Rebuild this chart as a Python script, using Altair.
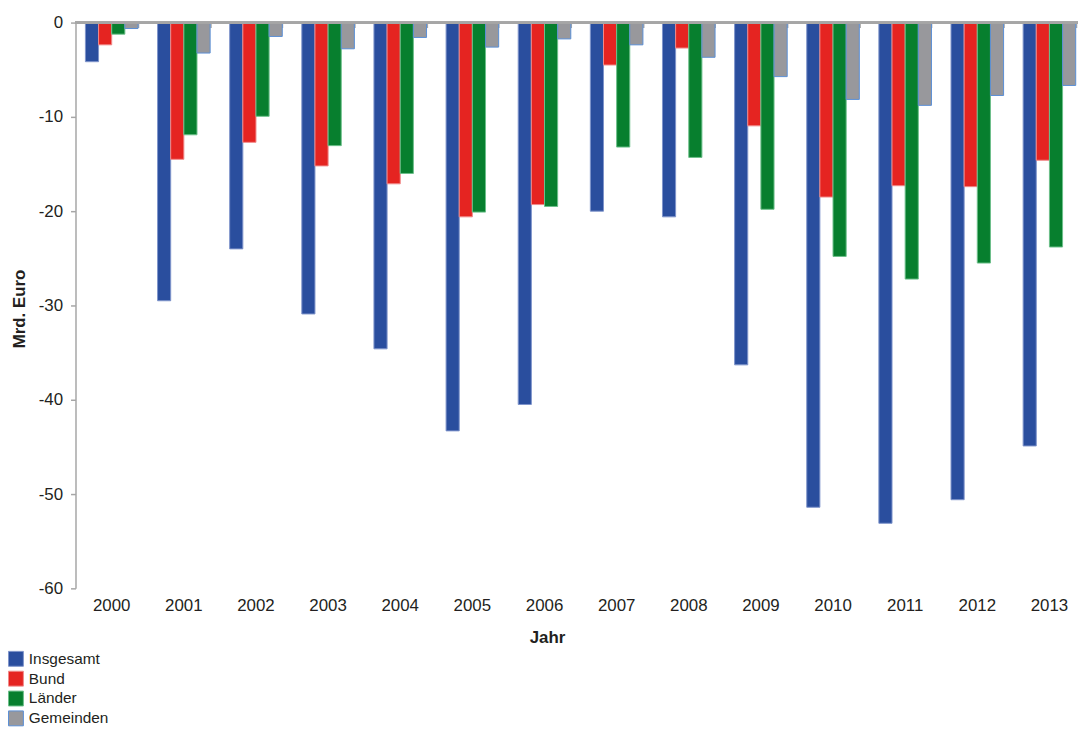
import altair as alt
import pandas as pd

years = [str(y) for y in range(2000, 2014)]
series = ["Insgesamt", "Bund", "Länder", "Gemeinden"]
insgesamt = [-4.15, -29.5, -24.0, -30.9, -34.6, -43.3, -40.5, -20.0, -20.6, -36.3, -51.4, -53.1, -50.6, -44.9]
bund = [-2.36, -14.5, -12.7, -15.2, -17.1, -20.6, -19.3, -4.5, -2.7, -10.95, -18.5, -17.3, -17.4, -14.6]
laender = [-1.23, -11.9, -9.94, -13.05, -16.0, -20.1, -19.5, -13.2, -14.3, -19.8, -24.8, -27.2, -25.5, -23.8]
gemeinden = [-0.63, -3.23, -1.47, -2.78, -1.58, -2.6, -1.73, -2.36, -3.68, -5.73, -8.15, -8.78, -7.73, -6.67]

fills = ["#2a4e9e", "#e52421", "#077f2e", "#98989c"]
strokes = ["#7f94cb", "#f08a8a", "#6cc08a", "#5b8fd6"]
stroke_widths = [1, 1, 1, 1.6]

rows = []
for name, vals in zip(series, [insgesamt, bund, laender, gemeinden]):
    for yr, v in zip(years, vals):
        rows.append({"Jahr": yr, "Ebene": name, "Rand": name, "Wert": v})
df = pd.DataFrame(rows)

grey = "#a6a6a6"
txt = "#231f20"
font = "Liberation Sans"

xscale = alt.Scale(domain=years, range=[0, 1017.7], paddingInner=0.271, paddingOuter=0.1376)
yscale = alt.Scale(domain=[-60, 0], nice=False, zero=False)

bars = alt.Chart(df).mark_bar().encode(
    x=alt.X("Jahr:N", scale=xscale, sort=years,
            axis=alt.Axis(orient="bottom", title="Jahr", titleFontSize=17, titleFontWeight="bold",
                          titleColor=txt, titleFont=font, labelFont=font,
                          labelFontSize=17, labelColor=txt, labelAngle=0, domain=False, ticks=False,
                          tickSize=0, labelPadding=9, titleX=475, titleY=50, titleAlign="center",
                          titleBaseline="middle")),
    xOffset=alt.XOffset("Ebene:N", sort=series, scale=alt.Scale(domain=series, paddingInner=0, paddingOuter=0)),
    y=alt.Y("Wert:Q", scale=yscale,
            axis=alt.Axis(title="Mrd. Euro", titleFontSize=17, titleFontWeight="bold", titleColor=txt,
                          titleFont=font, labelFont=font,
                          titleX=-56.5, titleY=288, titleAngle=270, titleAlign="center", titleBaseline="middle",
                          values=[-60, -50, -40, -30, -20, -10, 0], labelFontSize=17, labelColor=txt,
                          labelPadding=8, tickSize=5, tickColor=grey, tickWidth=1.5,
                          domainColor=grey, domainWidth=1.5, grid=False,
                          labelExpr="toString(datum.value)")),
    color=alt.Color("Ebene:N", sort=series, scale=alt.Scale(domain=series, range=fills),
                    legend=alt.Legend(title=None, orient="none", legendX=-68, legendY=633,
                                      direction="vertical", labelFontSize=15.5, labelFont=font,
                                      labelColor=txt, symbolType="square", symbolSize=225,
                                      symbolStrokeWidth=0, symbolStrokeColor="transparent",
                                      rowPadding=0, labelOffset=5, padding=0)),
    stroke=alt.Stroke("Rand:N", scale=alt.Scale(domain=series, range=strokes), legend=None),
    strokeWidth=alt.StrokeWidth("Rand:N", scale=alt.Scale(domain=series, range=stroke_widths), legend=None),
)

top_ticks = alt.Chart(df).mark_bar(opacity=0).encode(
    x=alt.X("Jahr:N", scale=xscale, sort=years,
            axis=alt.Axis(orient="top", title=None, labels=False, domain=False, offset=-5,
                          tickBand="extent", tickSize=5, tickColor=grey, tickWidth=1.5)),
)

zero = alt.Chart(df).mark_rule(color=grey, strokeWidth=1.7).encode(y=alt.datum(0))

chart = alt.layer(bars, top_ticks, zero).resolve_axis(x="independent").properties(
    width=1010, height=570,
    padding={"left": 68, "top": 12, "right": 0, "bottom": 138},
    autosize=alt.AutoSizeParams(type="none"),
    background="white",
).configure_view(stroke=None)

chart.save("out.html", embed_options={"renderer": "svg", "actions": False})
